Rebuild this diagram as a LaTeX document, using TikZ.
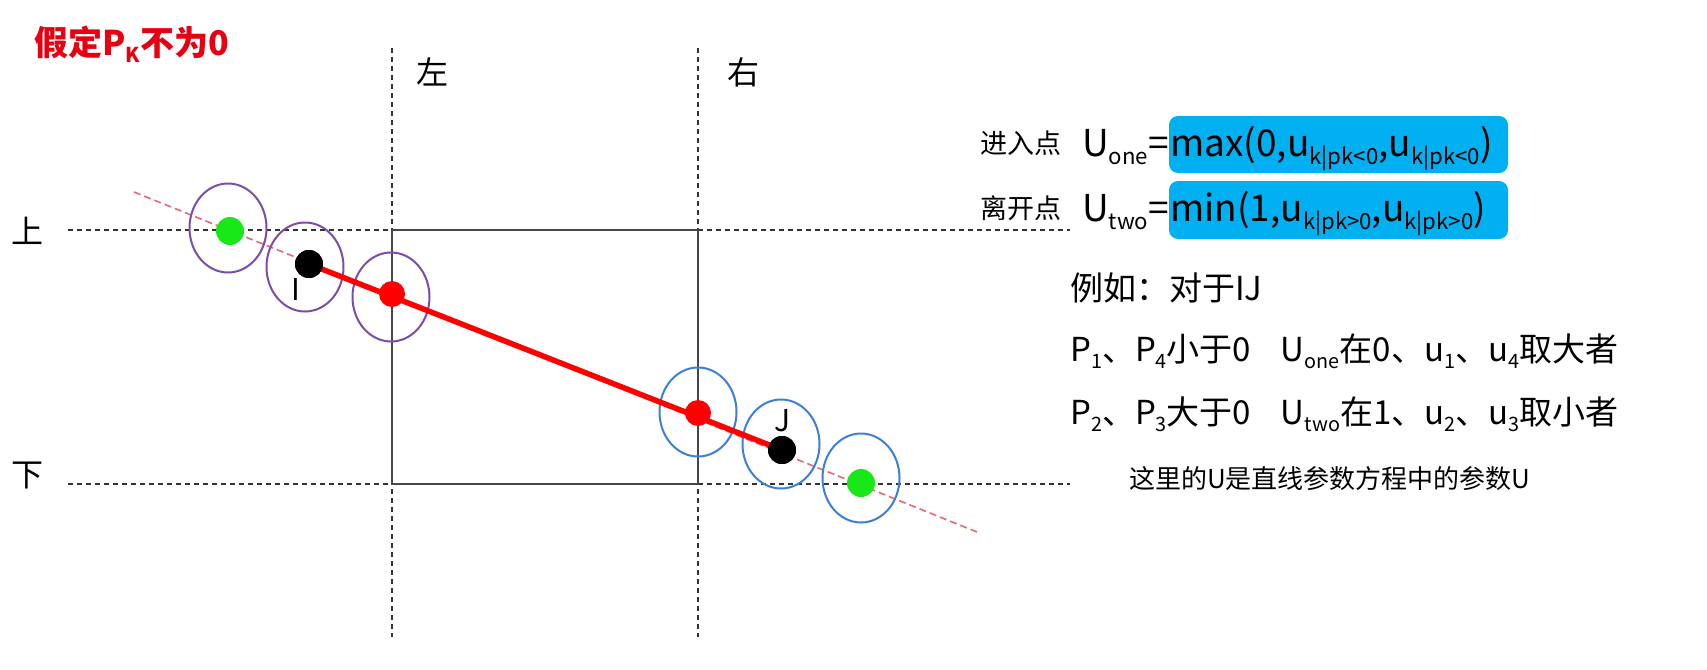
\documentclass[tikz,border=0pt]{standalone}
\usepackage{fontspec}
\setmainfont{Noto Sans CJK SC}
\usepackage{graphicx}
\usetikzlibrary{shapes.geometric}
\definecolor{boxblue}{HTML}{00B0F0}
\definecolor{ellpurple}{HTML}{7A4EA8}
\definecolor{ellblue}{HTML}{3D7FD6}
\definecolor{dotgreen}{HTML}{18E818}
\definecolor{pinkline}{HTML}{E06A74}
\definecolor{gridgray}{HTML}{333333}
\definecolor{titlered}{HTML}{E60012}
\newcommand\sbs[1]{\raisebox{-0.22em}{\scalebox{0.6}{#1}}}
\newcommand\myfs[1]{\fontsize{#1}{#1}\selectfont}
\tikzset{
  gridline/.style={draw=gridgray, line width=1.6pt, dash pattern=on 5pt off 4pt},
  boxline/.style={draw=gridgray!90, line width=2pt},
  extline/.style={draw=pinkline, line width=1.6pt, dash pattern=on 7pt off 4pt},
  segline/.style={draw=red, line width=5.5pt},
  ell/.style={ellipse, draw=#1, line width=2pt, minimum width=77pt, minimum height=89pt, inner sep=0pt},
  dot/.style={circle, fill=#1, minimum size=28pt, inner sep=0pt},
  lbl/.style={font=\myfs{32}, inner sep=0pt},
  rtxt/.style={font=\myfs{33}, inner sep=0pt, anchor=base west},
  bluebox/.style={fill=boxblue, rounded corners=9pt},
}
\begin{document}
\begin{tikzpicture}[x=1pt,y=-1pt]
\useasboundingbox[fill=white] (0,0) rectangle (1707,669);
% grid coordinates
\coordinate (hT0) at (68,230);  \coordinate (hT1) at (1070,230);
\coordinate (hB0) at (68,484);  \coordinate (hB1) at (1070,484);
\coordinate (vL0) at (392,48);  \coordinate (vL1) at (392,637);
\coordinate (vR0) at (698,48);  \coordinate (vR1) at (698,637);
\draw[gridline] (hT0) -- (hT1);
\draw[gridline] (hB0) -- (hB1);
\draw[gridline] (vL0) -- (vL1);
\draw[gridline] (vR0) -- (vR1);
\coordinate (box0) at (392,230); \coordinate (box1) at (698,484);
\draw[boxline] (box0) rectangle (box1);
% line
\coordinate (ext0) at (134,192); \coordinate (ext1) at (977,532);
\draw[extline] (ext0) -- (ext1);
% ellipses
\node[ell=ellpurple] (eG1) at (228,228) {};
\node[ell=ellpurple] (eI)  at (305,267) {};
\node[ell=ellpurple] (eR1) at (391,297) {};
\node[ell=ellblue]   (eR2) at (698,412) {};
\node[ell=ellblue]   (eJ)  at (781,444) {};
\node[ell=ellblue]   (eG2) at (861,478) {};
% dots
\node[dot=black] (I) at (309,264) {};
\node[dot=black] (J) at (782,450) {};
\draw[segline] (I.center) -- (J.center);
\node[dot=black] (Ib) at (309,264) {};
\node[dot=black] (Jb) at (782,450) {};
\node[dot=dotgreen] (G1) at (230,231) {};
\node[dot=dotgreen] (G2) at (861,483) {};
\node[dot=red, minimum size=26pt] (R1) at (392,294) {};
\node[dot=red, minimum size=26pt] (R2) at (698,413) {};
\node[lbl, font=\myfs{30}] (Ilbl) at (296,290) {I};
\node[lbl, font=\myfs{30}] (Jlbl) at (783,421) {J};
% labels
\node[lbl, anchor=west, text=titlered, font=\myfs{34}\bfseries] (title) at (34,44) {假定P\sbs{K}不为0};
\node[lbl] (left) at (432,72) {左};
\node[lbl] (right) at (743,72) {右};
\node[lbl] (up) at (27,231) {上};
\node[lbl] (down) at (27,476) {下};
% formulas
\coordinate (b1a) at (1169,116); \coordinate (b1b) at (1508,173);
\coordinate (b2a) at (1169,181); \coordinate (b2b) at (1508,239);
\fill[bluebox] (b1a) rectangle (b1b);
\fill[bluebox] (b2a) rectangle (b2b);
\node[inner sep=0pt, anchor=base west, font=\myfs{37}] (f1) at (1170,156) {max(0,u\sbs{k|pk<0},u\sbs{k|pk<0})};
\node[inner sep=0pt, anchor=base west, font=\myfs{37}] (f2) at (1170,221) {min(1,u\sbs{k|pk>0},u\sbs{k|pk>0})};
\node[inner sep=0pt, anchor=base east, font=\myfs{37}] (u1) at (1169,156) {U\sbs{one}=};
\node[inner sep=0pt, anchor=base east, font=\myfs{37}] (u2) at (1169,221) {U\sbs{two}=};
\node[inner sep=0pt, anchor=base west, font=\myfs{27}] (in) at (980,153) {进入点};
\node[inner sep=0pt, anchor=base west, font=\myfs{27}] (out) at (980,218) {离开点};
% example text
\node[rtxt] (ex1) at (1070,300) {例如：对于IJ};
\node[rtxt] (ex2) at (1070,361) {P\sbs{1}、P\sbs{4}小于0\hspace{0.9em}U\sbs{one}在0、u\sbs{1}、u\sbs{4}取大者};
\node[rtxt] (ex3) at (1070,424) {P\sbs{2}、P\sbs{3}大于0\hspace{0.9em}U\sbs{two}在1、u\sbs{2}、u\sbs{3}取小者};
\node[rtxt, font=\myfs{26}] (ex4) at (1129,488) {这里的U是直线参数方程中的参数U};
\end{tikzpicture}
\end{document}
